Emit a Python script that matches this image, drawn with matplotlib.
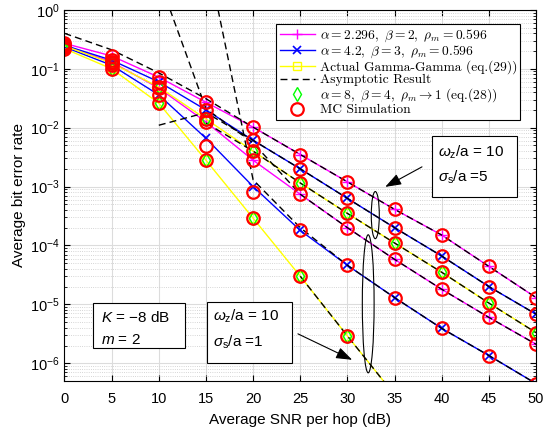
import numpy as np
import matplotlib
matplotlib.use('Agg')
import matplotlib.pyplot as plt
from matplotlib.patches import Ellipse, Rectangle
from matplotlib.font_manager import FontProperties
from matplotlib.ticker import LogLocator, FixedLocator, NullFormatter

plt.rcParams['font.family'] = ['Liberation Sans', 'DejaVu Sans']
plt.rcParams['mathtext.fontset'] = 'custom'
plt.rcParams['mathtext.rm'] = 'Liberation Sans'
plt.rcParams['mathtext.it'] = 'Liberation Sans:italic'

snr = np.arange(0, 55, 5)

# sigma_s/a = 5
ber_a2296_s5 = [0.27, 0.165, 0.072, 0.027, 1.02e-2, 3.5e-3, 1.2e-3, 4.1e-4, 1.5e-4, 4.4e-5, 1.3e-5]
ber_a42_s5 = [0.25, 0.14, 0.06, 0.020, 6.1e-3, 2.0e-3, 6.3e-4, 2.0e-4, 6.6e-5, 2.0e-5, 6.8e-6]
ber_gg_s5 = [0.245, 0.125, 0.049, 0.014, 4.0e-3, 1.15e-3, 3.5e-4, 1.1e-4, 3.5e-5, 1.05e-5, 3.3e-6]
# sigma_s/a = 1
ber_a2296_s1 = [0.25, 0.13, 0.047, 0.0125, 2.8e-3, 7.4e-4, 2.0e-4, 5.8e-5, 1.8e-5, 6.0e-6, 2.1e-6]
ber_a42_s1 = [0.235, 0.115, 0.036, 6.6e-3, 1.0e-3, 1.8e-4, 4.6e-5, 1.3e-5, 3.9e-6, 1.35e-6, 4.5e-7]
ber_gg_s1 = [0.22, 0.10, 0.026, 2.8e-3, 2.9e-4, 3.0e-5, 2.9e-6, 2.9e-7, np.nan, np.nan, np.nan]

# asymptotic expressions (nan where the expression is not valid)
asy_a2296_s5 = [0.4, 0.21, 0.085, 0.031, 1.02e-2, 3.5e-3, 1.2e-3, 4.1e-4, 1.5e-4, 4.4e-5, 1.3e-5]
asy_a42_s5 = [np.nan, np.nan, 0.011, 0.018, 6.1e-3, 2.0e-3, 6.3e-4, 2.0e-4, 6.6e-5, 2.0e-5, 6.8e-6]
asy_gg_s5 = [np.nan, np.nan, np.nan, 0.012, 4.0e-3, 1.15e-3, 3.5e-4, 1.1e-4, 3.5e-5, 1.05e-5, 3.3e-6]
asy_a2296_s1 = [np.nan, np.nan, 3.4, 0.021, 5.5e-3, 7.4e-4, 2.0e-4, 5.8e-5, 1.8e-5, 6.0e-6, 2.1e-6]
asy_a42_s1 = [np.nan, np.nan, np.nan, 10.0, 1.3e-3, 2.0e-4, 4.6e-5, 1.3e-5, 3.9e-6, 1.35e-6, 4.5e-7]
asy_gg_s1 = [np.nan, np.nan, np.nan, np.nan, np.nan, 3.0e-5, 2.9e-6, 2.9e-7, np.nan, np.nan, np.nan]

# Monte Carlo
mc_a42_s1 = [0.235, 0.115, 0.036, 4.9e-3, 8.0e-4, 1.8e-4, 4.6e-5, 1.3e-5, 3.9e-6, 1.35e-6, 4.5e-7]

fig = plt.figure(figsize=(5.51, 4.30), dpi=100)
ax = fig.add_axes([0.117, 0.114, 0.856, 0.863])

lw = 1.0
for y in (ber_a2296_s5, ber_a2296_s1):
    h1, = ax.semilogy(snr, y, '-', color='magenta', marker='+', ms=7, mew=1.0, lw=lw)
for y in (ber_a42_s5, ber_a42_s1):
    h2, = ax.semilogy(snr, y, '-', color='blue', marker='x', ms=6, mew=1.2, lw=lw)
for y in (ber_gg_s5, ber_gg_s1):
    h3, = ax.semilogy(snr, y, '-', color='yellow', marker='s', ms=6, mfc='none', mew=1.0, lw=lw)
for y in (asy_a2296_s5, asy_a42_s5, asy_gg_s5, asy_a2296_s1, asy_a42_s1, asy_gg_s1):
    h4, = ax.semilogy(snr, y, '--', color='black', lw=lw, dashes=(5, 3))
for y in (ber_gg_s5, ber_gg_s1):
    h5, = ax.semilogy(snr, y, 'd', color='#00ff00', mfc='none', ms=7, mew=1.0)
for y in (ber_a2296_s5, ber_a42_s5, ber_gg_s5, ber_a2296_s1, mc_a42_s1, ber_gg_s1):
    h6, = ax.semilogy(snr, y, 'o', color='red', mfc='none', ms=9, mew=1.6)

ax.set_xlim(0, 50)
ax.set_ylim(5e-7, 1)
ax.xaxis.set_major_locator(FixedLocator(snr))
ax.yaxis.set_major_locator(FixedLocator(10.0 ** np.arange(-6, 1)))
ax.yaxis.set_minor_locator(LogLocator(base=10, subs=np.arange(2, 10), numticks=20))
ax.yaxis.set_minor_formatter(NullFormatter())
ax.tick_params(which='both', direction='in', top=True, right=True, labelsize=10.5)
ax.tick_params(which='major', length=4)
ax.tick_params(which='minor', length=2)
ax.tick_params(axis='x', pad=8)
ax.grid(True, which='major', color='#dcdcdc', lw=0.8)
ax.grid(True, which='minor', axis='y', color='#c8c8c8', lw=0.6, ls=':')
ax.set_axisbelow(True)
for s in ax.spines.values():
    s.set_linewidth(0.8)

ax.set_xlabel('Average SNR per hop (dB)', fontsize=11, labelpad=5)
ax.set_ylabel('Average bit error rate', fontsize=11, labelpad=3)

leg_font = FontProperties(family='cmr10', size=9.7, math_fontfamily='cm')
leg = ax.legend([h1, h2, h3, h4, h5, h6],
                [r'$\alpha = 2.296,\ \beta = 2,\ \rho_m = 0.596$',
                 r'$\alpha = 4.2,\ \beta = 3,\ \rho_m = 0.596$',
                 'Actual Gamma-Gamma (eq.(29))',
                 'Asymptotic Result',
                 r'$\alpha = 8,\ \beta = 4,\ \rho_m \rightarrow 1$ (eq.(28))',
                 'MC Simulation'],
                loc='upper right', bbox_to_anchor=(0.9664, 0.962), borderaxespad=0,
                prop=leg_font, fancybox=False, framealpha=1, edgecolor='black',
                handlelength=2.6, handletextpad=0.35, borderpad=0.25, labelspacing=0.0)
leg.get_frame().set_linewidth(0.8)

# parameter boxes
for x0, y0, w, h in [(0.0604, 0.0889, 0.1952, 0.1211),
                     (0.302, 0.0485, 0.1805, 0.1645),
                     (0.779, 0.496, 0.181, 0.164)]:
    ax.add_patch(Rectangle((x0, y0), w, h, transform=ax.transAxes,
                           fc='white', ec='black', lw=0.8, zorder=5))
ax.text(0.0774, 0.170, r'$K$ = $-$8 dB', transform=ax.transAxes, fontsize=11, va='center', zorder=6)
ax.text(0.0774, 0.1105, r'$m$ = 2', transform=ax.transAxes, fontsize=11, va='center', zorder=6)
ax.text(0.315, 0.175, r'$\omega_{\rm z}$/a = 10', transform=ax.transAxes, fontsize=11, va='center', zorder=6)
ax.text(0.315, 0.105, r'$\sigma_{\rm s}$/a =1', transform=ax.transAxes, fontsize=11, va='center', zorder=6)
ax.text(0.792, 0.617, r'$\omega_{\rm z}$/a = 10', transform=ax.transAxes, fontsize=11, va='center', zorder=6)
ax.text(0.792, 0.550, r'$\sigma_{\rm s}$/a =5', transform=ax.transAxes, fontsize=11, va='center', zorder=6)

# arrows and ellipses grouping the curves
arrow = dict(arrowstyle='-|>,head_length=0.7,head_width=0.25', color='black', lw=0.8,
             shrinkA=0, shrinkB=0, mutation_scale=14)
ax.annotate('', xy=(0.680, 0.523), xytext=(0.758, 0.577),
            xycoords='axes fraction', arrowprops=arrow)
ax.annotate('', xy=(0.610, 0.057), xytext=(0.495, 0.127),
            xycoords='axes fraction', arrowprops=arrow)
ax.add_patch(Ellipse((0.659, 0.447), 0.017, 0.127, transform=ax.transAxes,
                     fill=False, ec='black', lw=0.8, zorder=4))
ax.add_patch(Ellipse((0.644, 0.208), 0.025, 0.372, transform=ax.transAxes,
                     fill=False, ec='black', lw=0.8, zorder=4))

fig.savefig('out.png', dpi=100)
